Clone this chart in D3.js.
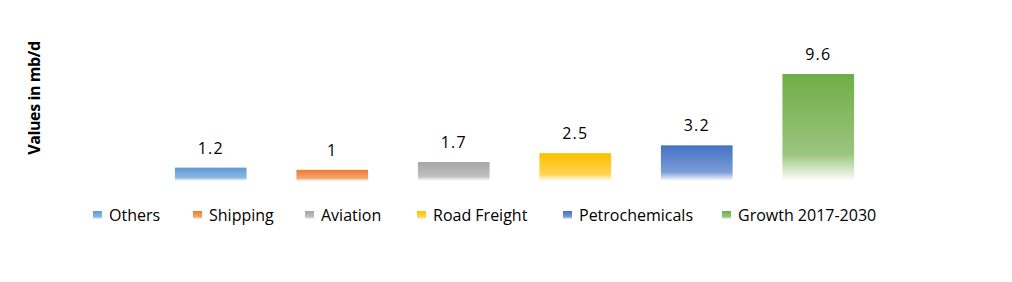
<!DOCTYPE html>
<html>
<head>
<meta charset="utf-8">
<script src="https://cdn.jsdelivr.net/npm/d3@7"></script>
<style>
  body { margin: 0; background: #fff; }
  text { font-family: "Open Sans", "Liberation Sans", sans-serif; fill: #000; }
</style>
</head>
<body>
<div id="chart"></div>
<script>
"use strict";

// categories (blank slots keep the spacing of the original)
var slots = ["s0", "Others", "Shipping", "Aviation", "Road Freight", "Petrochemicals", "Growth 2017-2030", "s7"];
var categories = ["Others", "Shipping", "Aviation", "Road Freight", "Petrochemicals", "Growth 2017-2030"];
var values = [1.2, 1, 1.7, 2.5, 3.2, 9.6];
var colors = ["#5B9BD5", "#ED7D31", "#A5A5A5", "#FFC000", "#4472C4", "#70AD47"];
var legendX = [93, 193, 305, 417, 563, 722];

var width = 1012;
var height = 282;
var baseY = 181;
var topY = 74;

var svg = d3.select("#chart")
    .append("svg")
    .attr("width", width)
    .attr("height", height);

var defs = svg.append("defs");

colors.forEach(function(c, i) {
  var g = defs.append("linearGradient")
      .attr("id", "grad" + i)
      .attr("x1", 0).attr("y1", 0)
      .attr("x2", 0).attr("y2", 1);
  g.append("stop").attr("offset", "0%").attr("stop-color", c);
  g.append("stop").attr("offset", "75%").attr("stop-color", d3.interpolateRgb(c, "#fff")(0.3));
  g.append("stop").attr("offset", "100%").attr("stop-color", "#fff");
});

var x = d3.scaleBand()
    .domain(slots)
    .range([28.5, 1000.5])
    .paddingInner(0.41)
    .paddingOuter(0.205);

var y = d3.scaleLinear()
    .domain([0, 9.6])
    .range([baseY, topY]);

// bars
svg.selectAll(".bar")
    .data(categories)
    .enter()
    .append("rect")
    .attr("class", "bar")
    .attr("x", function(d) { return x(d); })
    .attr("width", x.bandwidth())
    .attr("y", function(d, i) { return y(values[i]); })
    .attr("height", function(d, i) { return baseY - y(values[i]); })
    .attr("fill", function(d, i) { return "url(#grad" + i + ")"; });

// value labels
svg.selectAll(".val")
    .data(categories)
    .enter()
    .append("text")
    .attr("class", "val")
    .attr("x", function(d) { return x(d) + x.bandwidth() / 2; })
    .attr("y", function(d, i) { return y(values[i]) - 14; })
    .attr("text-anchor", "middle")
    .attr("font-size", 16)
    .attr("letter-spacing", 1.2)
    .text(function(d, i) { return values[i]; });

// y axis title
svg.append("text")
    .attr("transform", "translate(40,98) rotate(-90)")
    .attr("text-anchor", "middle")
    .attr("font-size", 16)
    .attr("font-weight", "bold")
    .attr("letter-spacing", -0.4)
    .text("Values in mb/d");

// legend
var legend = svg.selectAll(".leg")
    .data(categories)
    .enter()
    .append("g")
    .attr("class", "leg")
    .attr("transform", function(d, i) { return "translate(" + legendX[i] + ",210)"; });

legend.append("rect")
    .attr("y", 1)
    .attr("width", 9)
    .attr("height", 8)
    .attr("fill", function(d, i) { return "url(#grad" + i + ")"; });

legend.append("text")
    .attr("x", 16)
    .attr("y", 11)
    .attr("font-size", 16)
    .text(function(d) { return d; });
</script>
</body>
</html>
